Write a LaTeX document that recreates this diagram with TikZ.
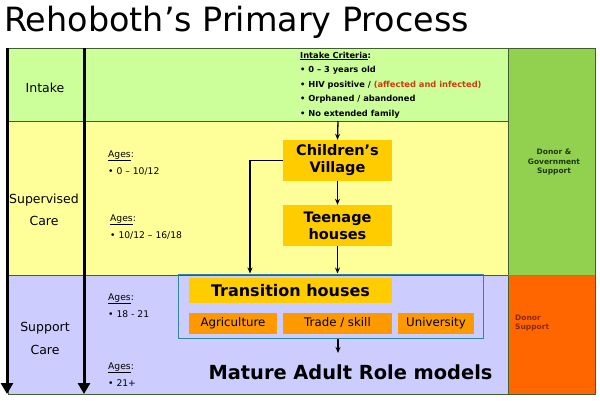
\documentclass[tikz,border=0pt]{standalone}
\usepackage{fontspec}
\setmainfont{DejaVu Sans}
\usetikzlibrary{arrows.meta}
\definecolor{intakeg}{HTML}{CCFF99}
\definecolor{rightg}{HTML}{92D050}
\definecolor{yband}{HTML}{FFFF99}
\definecolor{lav}{HTML}{CCCCFF}
\definecolor{orng}{HTML}{FF6600}
\definecolor{ybox}{HTML}{FFCC00}
\definecolor{obox}{HTML}{FF9900}
\definecolor{teal}{HTML}{31859C}
\definecolor{redtxt}{HTML}{D03A10}
\definecolor{donorr}{HTML}{8A2A00}
\definecolor{donorg}{HTML}{1E3A10}
\definecolor{bandline}{HTML}{3F5F2F}
\tikzset{
  band/.style={draw=bandline, line width=0.8pt},
  ybx/.style={fill=ybox, draw=none, inner sep=0pt, align=center, font=\bfseries\fontsize{14.5}{17}\selectfont},
  obx/.style={fill=obox, draw=none, inner sep=0pt, font=\fontsize{11.8}{13}\selectfont},
  conn/.style={line width=1.3pt, -{Stealth[length=6pt,width=5pt]}},
  bigarrow/.style={line width=3pt, -{Triangle[length=11pt,width=12pt]}},
  sidelab/.style={align=center, font=\fontsize{12.5}{22.5}\selectfont},
  ages/.style={anchor=base west, font=\fontsize{9.2}{11}\selectfont, inner sep=0pt},
  crit/.style={anchor=base west, font=\bfseries\fontsize{8.3}{10}\selectfont, inner sep=0pt},
}
\begin{document}
\begin{tikzpicture}[x=1pt,y=-1pt]
\useasboundingbox (0,0) rectangle (600,400);
% bands
\fill[intakeg] (8,48) rectangle (508,121);
\fill[yband] (8,121) rectangle (508,275);
\fill[lav] (8,275) rectangle (508,394);
\fill[rightg] (508,48) rectangle (595,275);
\fill[orng] (508,275) rectangle (595,394);
\draw[band] (8,48) rectangle (595,394);
\draw[band] (8,121) -- (508,121);
\draw[band] (8,275) -- (508,275);
\draw[band] (508,48) -- (508,394);
\draw[band, draw=gray] (508,275) -- (595,275);
% title
\node[anchor=base west, inner sep=0pt, font=\fontsize{33.4}{38}\selectfont] (title) at (4,31) {Rehoboth’s Primary Process};
% big arrows
\coordinate (l1t) at (7,48); \coordinate (l1b) at (7,394);
\coordinate (l2t) at (84,48); \coordinate (l2b) at (84,394);
\draw[bigarrow] (l1t) -- (l1b);
\draw[bigarrow] (l2t) -- (l2b);
% side labels
\node[sidelab] (intake) at (45,88) {Intake};
\node[sidelab] (sup) at (44,210) {Supervised\\Care};
\node[sidelab] (supp) at (45,338.5) {Support\\Care};
% intake criteria
\node[crit] (c0) at (300,58) {\underline{Intake Criteria}:};
\node[crit] (c1) at (300,72.5) {• 0 – 3 years old};
\node[crit] (c2) at (300,87) {• HIV positive / \textcolor{redtxt}{(affected and infected)}};
\node[crit] (c3) at (300,101.5) {• Orphaned / abandoned};
\node[crit] (c4) at (300,116) {• No extended family};
% ages
\node[ages] (a1) at (108,157) {\underline{Ages}:};
\node[ages] (a1b) at (108,174.5) {• 0 – 10/12};
\node[ages] (a2) at (110,221) {\underline{Ages}:};
\node[ages] (a2b) at (110,238) {• 10/12 – 16/18};
\node[ages] (a3) at (108,300) {\underline{Ages}:};
\node[ages] (a3b) at (108,317) {• 18 - 21};
\node[ages] (a4) at (108,369) {\underline{Ages}:};
\node[ages] (a4b) at (108,386) {• 21+};
% boxes
\node[ybx, minimum width=109pt, minimum height=41pt] (cv) at (337.5,160.5) {Children’s\\Village};
\node[ybx, minimum width=109pt, minimum height=41pt] (th) at (337.5,225.5) {Teenage\\houses};
\node[draw=teal, line width=1pt, minimum width=305pt, minimum height=64pt, inner sep=0pt] (trans) at (330.5,306) {};
\node[ybx, minimum width=203pt, minimum height=25pt, font=\bfseries\fontsize{16}{18}\selectfont] (th2) at (290.5,290.5) {Transition houses};
\node[obx, minimum width=88pt, minimum height=21pt] (agr) at (233,323) {Agriculture};
\node[obx, minimum width=109pt, minimum height=21pt] (trd) at (337.5,323) {Trade / skill};
\node[obx, minimum width=76pt, minimum height=21pt] (uni) at (436,323) {University};
\node[font=\bfseries\fontsize{19.4}{21}\selectfont, inner sep=0pt] (mat) at (350.5,372) {Mature Adult Role models};
% right column
\node[align=center, text=donorg, font=\bfseries\fontsize{7.5}{9.5}\selectfont] (dg) at (554,162) {Donor \&\\Government\\Support};
\node[align=left, anchor=west, text=donorr, font=\bfseries\fontsize{7.5}{9.5}\selectfont, inner sep=0pt] (ds) at (515,323) {Donor\\Support};
% connectors
\coordinate (ib) at (338,121);
\coordinate (lx) at (250,0);
\coordinate (me) at (338,353);
\draw[conn] (ib) -- (cv.north);
\draw[conn] (cv.south) -- (th.north);
\draw[conn] (th.south) -- (th.south |- trans.north);
\draw[conn] (cv.west) -- (cv.west -| lx) -- (lx |- trans.north);
\draw[conn] (trans.south -| ib) -- (me);
\end{tikzpicture}
\end{document}
